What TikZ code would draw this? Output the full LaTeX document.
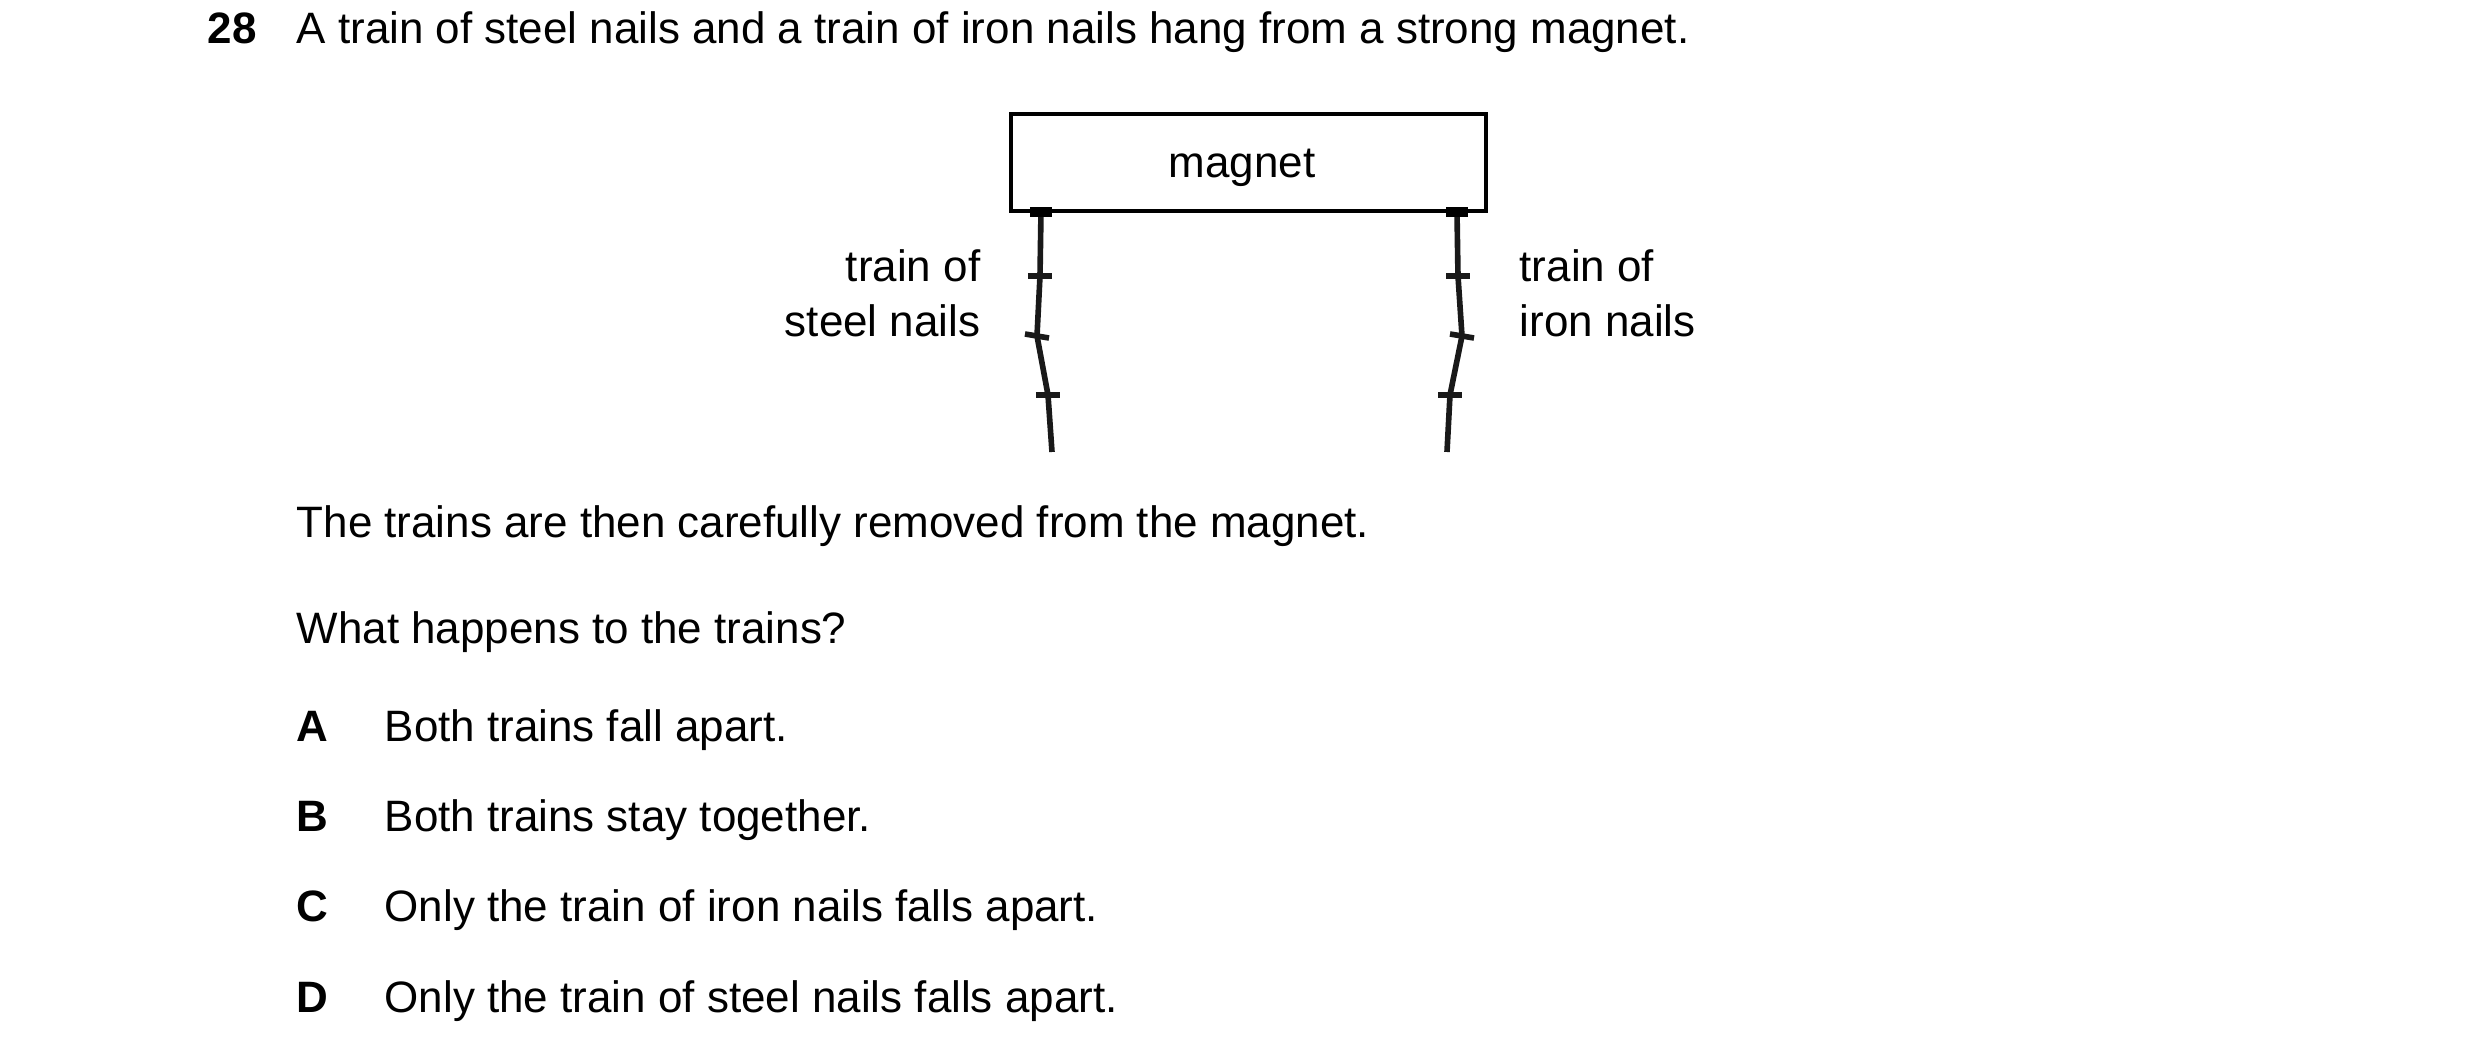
\documentclass[tikz,border=0pt]{standalone}
\usepackage{fontspec}
\setmainfont{Liberation Sans}
\begin{document}
\begin{tikzpicture}[x=0.01cm,y=-0.01cm,
  txt/.style={inner sep=0pt,font=\fontsize{12.5pt}{15pt}\selectfont},
  nail/.style={line width=1.6pt,black!90},
  head/.style={line width=1.6pt,black!90}]
\useasboundingbox (0,0) rectangle (2480,1061);
\node[txt,anchor=base west] (num) at (207,44) {\textbf{28}};
\node[txt,anchor=base west] (q) at (296,44) {A train of steel nails and a train of iron nails hang from a strong magnet.};
\node[draw,line width=1.3pt,minimum width=4.75cm,minimum height=0.97cm,inner sep=0pt] (mag) at (1248.5,162.5) {};
\node[txt,anchor=base] (magl) at (1242,178) {magnet};
\node[txt,anchor=base east,align=right] (sl1) at (981,282) {train of};
\node[txt,anchor=base east] (sl2) at (981,337) {steel nails};
\node[txt,anchor=base west] (il1) at (1519,282) {train of};
\node[txt,anchor=base west] (il2) at (1519,337) {iron nails};
% steel nails
\coordinate (s0) at (1041,212); \coordinate (s1) at (1040,276);
\coordinate (s2) at (1037,336); \coordinate (s3) at (1048,395);
\coordinate (s4) at (1052,452);
\draw[nail] (s0) -- (s1) -- (s2) -- (s3) -- (s4);
\draw[line width=3pt] ([xshift=-0.11cm]s0) -- ([xshift=0.11cm]s0);
\draw[head] ([xshift=-0.12cm]s1) -- ([xshift=0.12cm]s1);
\draw[head] ([xshift=-0.12cm,yshift=0.02cm]s2) -- ([xshift=0.12cm,yshift=-0.02cm]s2);
\draw[head] ([xshift=-0.12cm]s3) -- ([xshift=0.12cm]s3);
% iron nails
\coordinate (i0) at (1457,212); \coordinate (i1) at (1458,276);
\coordinate (i2) at (1462,336); \coordinate (i3) at (1450,395);
\coordinate (i4) at (1447,452);
\draw[nail] (i0) -- (i1) -- (i2) -- (i3) -- (i4);
\draw[line width=3pt] ([xshift=-0.11cm]i0) -- ([xshift=0.11cm]i0);
\draw[head] ([xshift=-0.12cm]i1) -- ([xshift=0.12cm]i1);
\draw[head] ([xshift=-0.12cm,yshift=0.02cm]i2) -- ([xshift=0.12cm,yshift=-0.02cm]i2);
\draw[head] ([xshift=-0.12cm]i3) -- ([xshift=0.12cm]i3);
\node[txt,anchor=base west] (t1) at (296,538) {The trains are then carefully removed from the magnet.};
\node[txt,anchor=base west] (t2) at (296,644) {What happens to the trains?};
\node[txt,anchor=base west] (la) at (296,742) {\textbf{A}};
\node[txt,anchor=base west] (a) at (384,742) {Both trains fall apart.};
\node[txt,anchor=base west] (lb) at (296,832) {\textbf{B}};
\node[txt,anchor=base west] (b) at (384,832) {Both trains stay together.};
\node[txt,anchor=base west] (lc) at (296,922) {\textbf{C}};
\node[txt,anchor=base west] (c) at (384,922) {Only the train of iron nails falls apart.};
\node[txt,anchor=base west] (ld) at (296,1013) {\textbf{D}};
\node[txt,anchor=base west] (d) at (384,1013) {Only the train of steel nails falls apart.};
\end{tikzpicture}
\end{document}
